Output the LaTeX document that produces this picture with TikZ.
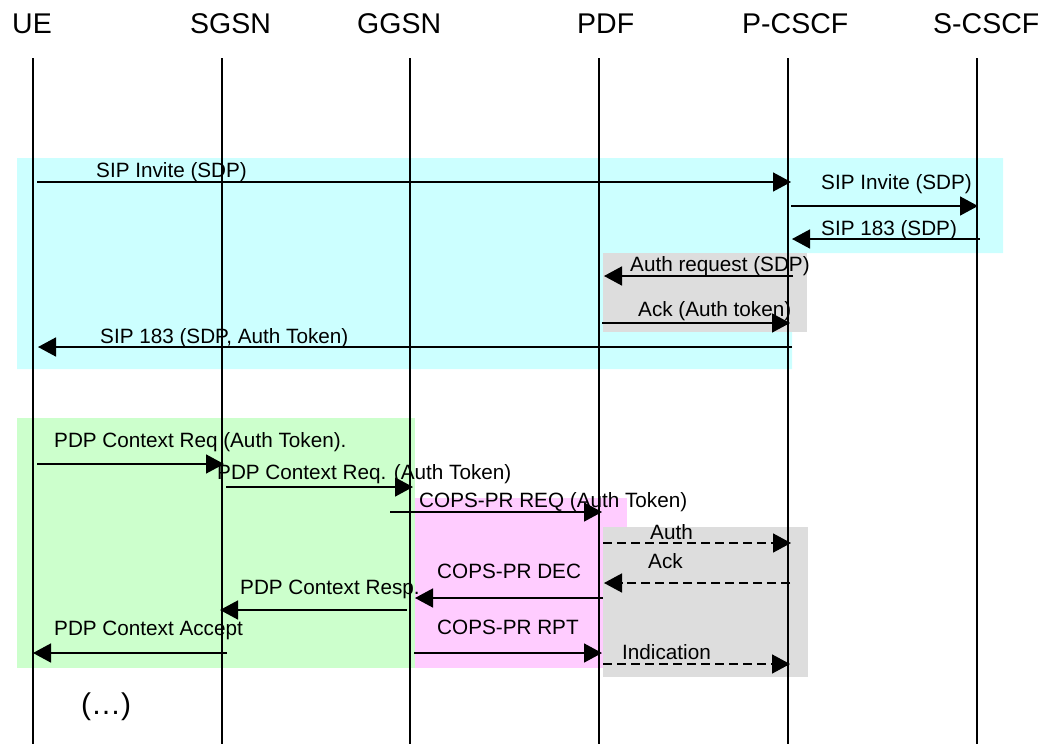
\documentclass[tikz,border=0pt]{standalone}
\usepackage{fontspec}
\setmainfont{Liberation Sans}
\usetikzlibrary{arrows.meta}
\definecolor{cyanbg}{HTML}{CCFFFF}
\definecolor{greenbg}{HTML}{CCFFCC}
\definecolor{pinkbg}{HTML}{FFCCFF}
\definecolor{graybg}{HTML}{DDDDDD}
\begin{document}
\begin{tikzpicture}[x=1pt,y=-1pt,
  hdr/.style={anchor=base west,inner sep=0pt,font=\fontsize{28.5}{32}\selectfont},
  lbl/.style={anchor=base west,inner sep=0pt,font=\fontsize{20.7}{24}\selectfont},
  life/.style={line width=1.6pt},
  msg/.style={line width=1.6pt,-{Triangle[length=18pt,width=19pt]}},
  dmsg/.style={msg,dash pattern=on 9pt off 5pt},
  bgbox/.style={draw=none}]
\useasboundingbox (0,0) rectangle (1043,744);
% background boxes
\fill[cyanbg] (17,158) -- (1003,158) -- (1003,253) -- (792,253) -- (792,369) -- (17,369) -- cycle;
\fill[graybg] (603,253) rectangle (807,332);
\fill[greenbg] (17,418) rectangle (415,668);
\fill[pinkbg] (415,498) rectangle (627,668);
\fill[graybg] (603,527) rectangle (808,677);
% headers
\node[hdr] (hUE) at (12,33) {UE};
\node[hdr] (hSGSN) at (190,33) {SGSN};
\node[hdr] (hGGSN) at (357,33) {GGSN};
\node[hdr] (hPDF) at (577,33) {PDF};
\node[hdr] (hPCSCF) at (742,33) {P-CSCF};
\node[hdr] (hSCSCF) at (933,33) {S-CSCF};
% lifelines
\foreach \n/\x in {ue/33,sgsn/222,ggsn/410,pdf/599,pcscf/788,scscf/977}{
  \coordinate (\n-top) at (\x,58);
  \coordinate (\n-bot) at (\x,744);
  \draw[life] (\n-top) -- (\n-bot);
}
% labels
\node[lbl] (l1) at (96,177) {SIP Invite (SDP)};
\node[lbl] (l2) at (821,189) {SIP Invite (SDP)};
\node[lbl] (l3) at (821,235) {SIP 183 (SDP)};
\node[lbl] (l4) at (630,271) {Auth request (SDP)};
\node[lbl] (l5) at (638,316) {Ack (Auth token)};
\node[lbl] (l6) at (100,343) {SIP 183 (SDP, Auth Token)};
\node[lbl] (l7) at (54,447) {PDP Context Req (Auth Token).};
\node[lbl] (l8) at (217,479) {PDP Context Req. (Auth Token)};
\node[lbl] (l9) at (419,507) {COPS-PR REQ (Auth Token)};
\node[lbl] (l10) at (650,539) {Auth};
\node[lbl] (l11) at (648,568) {Ack};
\node[lbl] (l12) at (437,578) {COPS-PR DEC};
\node[lbl] (l13) at (240,594) {PDP Context Resp.};
\node[lbl] (l14) at (437,634) {COPS-PR RPT};
\node[lbl] (l15) at (622,659) {Indication};
\node[lbl] (l16) at (54,635) {PDP Context Accept};
\node[inner sep=0pt,font=\fontsize{30}{34}\selectfont] (etc) at (106,707) {(…)};
% message end points
\coordinate (a1s) at (37,182);  \coordinate (a1e) at (791,182);
\coordinate (a2s) at (791,206); \coordinate (a2e) at (978,206);
\coordinate (a3s) at (980,239); \coordinate (a3e) at (792,239);
\coordinate (a4s) at (793,276); \coordinate (a4e) at (604,276);
\coordinate (a5s) at (602,323); \coordinate (a5e) at (790,323);
\coordinate (a6s) at (792,347); \coordinate (a6e) at (38,347);
\coordinate (a7s) at (37,464);  \coordinate (a7e) at (224,464);
\coordinate (a8s) at (226,487); \coordinate (a8e) at (413,487);
\coordinate (a9s) at (390,512); \coordinate (a9e) at (602,512);
\coordinate (a10s) at (603,543); \coordinate (a10e) at (791,543);
\coordinate (a11s) at (790,583); \coordinate (a11e) at (604,583);
\coordinate (a12s) at (603,598); \coordinate (a12e) at (415,598);
\coordinate (a13s) at (407,610); \coordinate (a13e) at (220,610);
\coordinate (a14s) at (414,653); \coordinate (a14e) at (602,653);
\coordinate (a15s) at (603,664); \coordinate (a15e) at (790,664);
\coordinate (a16s) at (227,653); \coordinate (a16e) at (33,653);
% messages
\foreach \i in {1,2,3,4,5,6,7,8,9,12,13,14,16}{
  \draw[msg] (a\i s) -- (a\i e);
}
\foreach \i in {10,11,15}{
  \draw[dmsg] (a\i s) -- (a\i e);
}
\end{tikzpicture}
\end{document}
